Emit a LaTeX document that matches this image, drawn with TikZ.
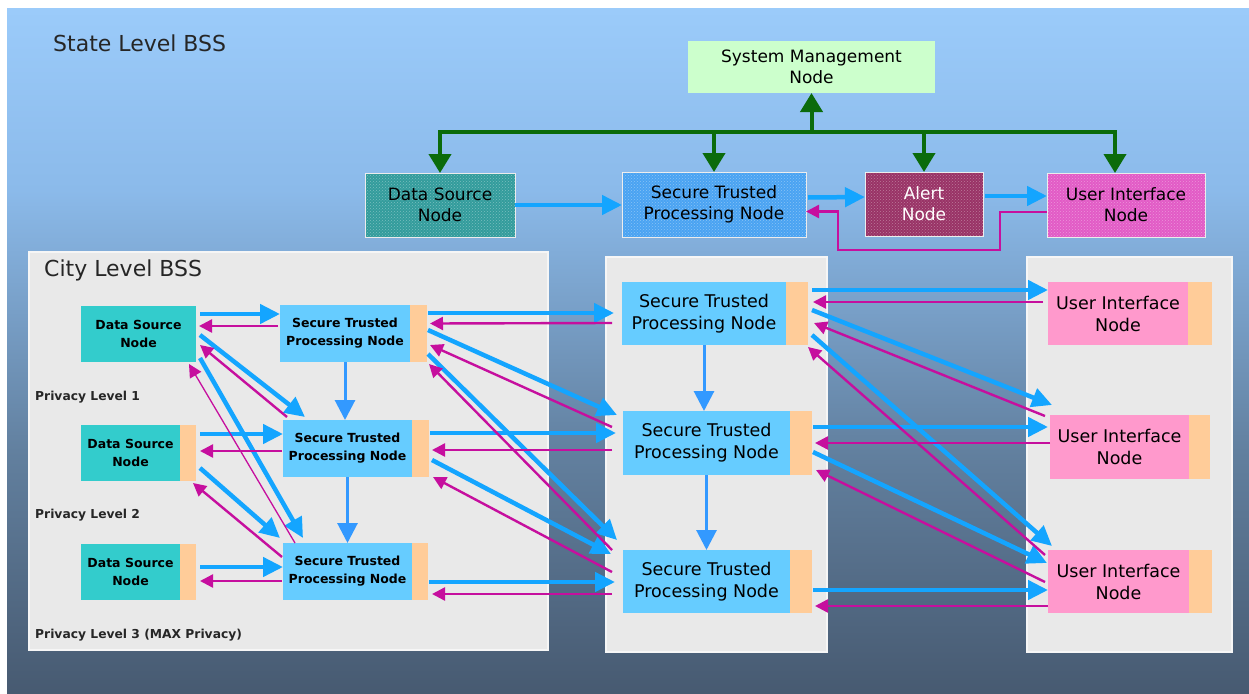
\documentclass[tikz,border=0pt]{standalone}
\usepackage{fontspec}
\setmainfont{DejaVu Sans}
\usetikzlibrary{arrows.meta,calc,patterns}

\definecolor{bgtop}{HTML}{9BCBFA}
\definecolor{bgmid}{HTML}{8BBAEA}
\definecolor{bglow}{HTML}{62809F}
\definecolor{bgbot}{HTML}{475A71}
\definecolor{panelgray}{HTML}{E9E9E9}
\definecolor{panelrim}{HTML}{F6F6F6}
\definecolor{dsteal}{HTML}{33CCCC}
\definecolor{stpblue}{HTML}{66CCFF}
\definecolor{stripor}{HTML}{FFCC99}
\definecolor{uipink}{HTML}{FF99CC}
\definecolor{smgreen}{HTML}{CCFFCC}
\definecolor{sdsteal}{HTML}{339C9C}
\definecolor{sstpblue}{HTML}{4AA3F2}
\definecolor{alertc}{HTML}{993366}
\definecolor{suipink}{HTML}{E25BC6}
\definecolor{arrblue}{HTML}{14A5FF}
\definecolor{arrvert}{HTML}{3399FF}
\definecolor{arrmag}{HTML}{C60F9E}
\definecolor{arrgreen}{HTML}{0B6B0B}

\newcommand\setfs[2]{\fontsize{#1}{#2}\selectfont}

\tikzset{
  box/.style={inner sep=0pt, outer sep=0pt, anchor=north west, align=center, text=black},
  panelbox/.style={box, fill=panelgray, draw=panelrim, line width=1.2pt},
  statebox/.style={box, draw=white!85!gray, line width=1pt,
    postaction={pattern=crosshatch dots, pattern color=white, fill opacity=0.35},
    font=\setfs{17pt}{21pt}},
  citybox/.style={box, font=\bfseries\setfs{12.5pt}{18pt}},
  bigbox/.style={box, font=\setfs{17.5pt}{22pt}},
  stripbox/.style={box, fill=stripor},
  lbl/.style={inner sep=0pt, anchor=base west, text=black!85},
  bA/.style={draw=arrblue, line width=4.5pt, -{Triangle[length=20pt,width=19pt]}},
  mA/.style={draw=arrmag, line width=2.4pt, -{Triangle[length=13pt,width=13pt]}},
  mthin/.style={draw=arrmag, line width=1.3pt, -{Triangle[length=13pt,width=13pt]}},
  vA/.style={draw=arrvert, line width=3pt, -{Triangle[length=20pt,width=20pt]}},
  gL/.style={draw=arrgreen, line width=4pt},
  gA/.style={gL, -{Triangle[length=19pt,width=22pt]}},
}

\begin{document}
\begin{tikzpicture}[x=1pt,y=-1pt]
\useasboundingbox (0,0) rectangle (1249,693);

% backdrop with vertical colour ramp
\fill[white] (0,0) rectangle (1249,693);
\shade[top color=bgtop, bottom color=bgmid] (7,9) rectangle (1249,190.5);
\shade[top color=bgmid, bottom color=bglow] (7,190) rectangle (1249,450.5);
\shade[top color=bglow, bottom color=bgbot] (7,450) rectangle (1249,693);

\node[lbl, font=\setfs{22pt}{26pt}] (statelbl) at (53,52) {State Level BSS};

% ---------- state level ----------
\node[box, fill=smgreen, minimum width=247pt, minimum height=52pt, font=\setfs{17pt}{21pt}] (sm) at (688,41) {System Management\\Node};
\node[statebox, fill=sdsteal, minimum width=150pt, minimum height=64pt] (sds) at (365,173) {Data Source\\Node};
\node[statebox, fill=sstpblue, minimum width=184pt, minimum height=65pt] (sstp) at (622,172) {Secure Trusted\\Processing Node};
\node[statebox, fill=alertc, minimum width=118pt, minimum height=64pt, text=white] (alert) at (865,172) {Alert\\Node};
\node[statebox, fill=suipink, minimum width=158pt, minimum height=64pt] (sui) at (1047,173) {User Interface\\Node};

% management bus
\coordinate (bus) at ($(sm.south)+(0,39)$);
\coordinate (uitop) at ($(sui.north)+(-11,0)$);
\draw[gA] (bus) -- (sm.south);
\draw[gL, {Triangle[length=19pt,width=22pt]}-{Triangle[length=19pt,width=22pt]}]
  (sds.north) -- (sds.north |- bus) -- (uitop |- bus) -- (uitop);
\draw[gA] (sstp.north |- bus) -- (sstp.north);
\draw[gA] (alert.north |- bus) -- (alert.north);

% state data flow
\draw[bA] (sds.east) -- (sds.east -| sstp.west);
\draw[bA] ($(sstp.east)+(2,-7)$) -- ($(alert.west)+(0,-7)$);
\draw[bA] ($(alert.east)+(2,-8)$) -- ($(sui.west)+(0,-9)$);
\coordinate (r1) at ($(alert.south east)+(17,14)$);
\coordinate (r2) at ($(sstp.south east)+(32,13)$);
\draw[mA] ($(sui.west)+(0,7)$) -| (r1) -- (r2) |- ($(sstp.east)+(0,7)$);

% ---------- panels ----------
\node[panelbox, minimum width=519pt, minimum height=398pt] (citypanel) at (29,252) {};
\node[panelbox, minimum width=221pt, minimum height=395pt] (midpanel) at (606,257) {};
\node[panelbox, minimum width=205pt, minimum height=395pt] (uipanel) at (1027,257) {};

\node[lbl, font=\setfs{22pt}{26pt}] (citylbl) at (44,276) {City Level BSS};
\node[lbl, font=\bfseries\setfs{12.3pt}{15pt}] (pl1) at (35,400) {Privacy Level 1};
\node[lbl, font=\bfseries\setfs{12.3pt}{15pt}] (pl2) at (35,518) {Privacy Level 2};
\node[lbl, font=\bfseries\setfs{12.3pt}{15pt}] (pl3) at (35,638) {Privacy Level 3 (MAX Privacy)};

% city data sources
\node[citybox, fill=dsteal, minimum width=115pt, minimum height=56pt] (ds1) at (81,306) {Data Source\\Node};
\node[citybox, fill=dsteal, minimum width=99pt, minimum height=56pt] (ds2) at (81,425) {Data Source\\Node};
\node[stripbox, minimum width=16pt, minimum height=56pt] (ds2s) at (ds2.north east) {};
\node[citybox, fill=dsteal, minimum width=99pt, minimum height=56pt] (ds3) at (81,544) {Data Source\\Node};
\node[stripbox, minimum width=16pt, minimum height=56pt] (ds3s) at (ds3.north east) {};

% city processing nodes
\node[citybox, fill=stpblue, minimum width=130pt, minimum height=57pt] (stp1) at (280,305) {Secure Trusted\\Processing Node};
\node[stripbox, minimum width=17pt, minimum height=57pt] (stp1s) at (stp1.north east) {};
\node[citybox, fill=stpblue, minimum width=129pt, minimum height=57pt] (stp2) at (283,420) {Secure Trusted\\Processing Node};
\node[stripbox, minimum width=17pt, minimum height=57pt] (stp2s) at (stp2.north east) {};
\node[citybox, fill=stpblue, minimum width=129pt, minimum height=57pt] (stp3) at (283,543) {Secure Trusted\\Processing Node};
\node[stripbox, minimum width=16pt, minimum height=57pt] (stp3s) at (stp3.north east) {};

% middle processing nodes
\node[bigbox, fill=stpblue, minimum width=164pt, minimum height=63pt] (m1) at (622,282) {Secure Trusted\\Processing Node};
\node[stripbox, minimum width=22pt, minimum height=63pt] (m1s) at (m1.north east) {};
\node[bigbox, fill=stpblue, minimum width=167pt, minimum height=64pt] (m2) at (623,411) {Secure Trusted\\Processing Node};
\node[stripbox, minimum width=22pt, minimum height=64pt] (m2s) at (m2.north east) {};
\node[bigbox, fill=stpblue, minimum width=167pt, minimum height=63pt] (m3) at (623,550) {Secure Trusted\\Processing Node};
\node[stripbox, minimum width=22pt, minimum height=63pt] (m3s) at (m3.north east) {};

% user interfaces
\node[bigbox, fill=uipink, minimum width=140pt, minimum height=63pt] (u1) at (1048,282) {User Interface\\Node};
\node[stripbox, minimum width=24pt, minimum height=63pt] (u1s) at (u1.north east) {};
\node[bigbox, fill=uipink, minimum width=139pt, minimum height=64pt] (u2) at (1050,415) {User Interface\\Node};
\node[stripbox, minimum width=21pt, minimum height=64pt] (u2s) at (u2.north east) {};
\node[bigbox, fill=uipink, minimum width=141pt, minimum height=63pt] (u3) at (1048,550) {User Interface\\Node};
\node[stripbox, minimum width=23pt, minimum height=63pt] (u3s) at (u3.north east) {};

% ---------- city level flows ----------
\draw[bA] ($(ds1.east)+(4,-20)$) -- ($(stp1.west)+(0,-19.5)$);
\draw[bA] ($(ds1.east)+(4,1)$) -- ($(stp2.north west)+(22,-3)$);
\draw[bA] ($(ds1.south east)+(4,-4)$) -- ($(stp3.north west)+(20,-5)$);
\draw[bA] ($(ds2s.east)+(4,-19)$) -- ($(stp2.west)+(0,-14.5)$);
\draw[bA] ($(ds2s.east)+(4,15)$) -- ($(stp3.north west)+(-3,-5)$);
\draw[bA] ($(ds3s.east)+(4,-5)$) -- ($(stp3.west)+(0,-4.5)$);

\draw[mA] ($(stp1.west)+(-2,-7.5)$) -- ($(ds1.east)+(3,-8)$);
\draw[mA] ($(stp2.north west)+(4,-3)$) -- ($(ds1.east)+(4,11)$);
\draw[mthin] ($(stp3.north west)+(12,0)$) -- ($(ds1.south east)+(-7,2)$);
\draw[mA] ($(stp2.west)+(-1,2.5)$) -- ($(ds2s.east)+(4,-2)$);
\draw[mA] ($(stp3.west)+(-1,-14.5)$) -- ($(ds2s.south east)+(-3,2)$);
\draw[mA] ($(stp3.west)+(-1,9.5)$) -- ($(ds3s.east)+(4,9)$);

\draw[vA] (stp1.south) -- (stp1.south |- stp2.north);
\draw[vA] (stp2.south) -- (stp2.south |- stp3.north);

% ---------- city to regional flows ----------
\draw[bA] ($(stp1s.east)+(1,-20.5)$) -- ($(m1.west)+(-8,-0.5)$);
\draw[bA] ($(stp1s.east)+(1,-3.5)$) -- ($(m2.north west)+(-6,4)$);
\draw[bA] ($(stp1s.east)+(1,20.5)$) -- ($(m3.north west)+(-6,-10)$);
\draw[bA] ($(stp2s.east)+(1,-15.5)$) -- ($(m2.west)+(-7,-10)$);
\draw[bA] ($(stp2s.east)+(3,11.5)$) -- ($(m3.north west)+(-12,4)$);
\draw[bA] ($(stp3s.east)+(1,10.5)$) -- ($(m3.west)+(-8,0.5)$);

\draw[mA] ($(m1.west)+(-10,9.5)$) -- ($(stp1s.east)+(3,-10)$);
\draw[mA] ($(m2.west)+(-11,-16)$) -- ($(stp1s.east)+(3,11.5)$);
\draw[mA] ($(m3.north west)+(-11,0)$) -- ($(stp1s.south east)+(2,2)$);
\draw[mA] ($(m2.west)+(-11,7)$) -- ($(stp2s.east)+(3,1.5)$);
\draw[mA] ($(m3.west)+(-11,-9.5)$) -- ($(stp2s.south east)+(4,0)$);
\draw[mA] ($(m3.west)+(-11,12.5)$) -- ($(stp3s.east)+(4,22.5)$);

\draw[vA] (m1.south) -- (m1.south |- m2.north);
\draw[vA] (m2.south) -- (m2.south |- m3.north);

% ---------- regional to user interface flows ----------
\draw[bA] ($(m1s.east)+(4,-23.5)$) -- ($(u1.west)+(0,-23.5)$);
\draw[bA] ($(m1s.east)+(4,-3.5)$) -- ($(u2.north west)+(2,-10)$);
\draw[bA] ($(m1s.east)+(4,21.5)$) -- ($(u3.north west)+(4,-4)$);
\draw[bA] ($(m2s.east)+(1,-16)$) -- ($(u2.west)+(-2,-20)$);
\draw[bA] ($(m2s.east)+(1,9)$) -- ($(u3.west)+(-1,-18.5)$);
\draw[bA] ($(m3s.east)+(1,8.5)$) -- ($(u3.west)+(0,8.5)$);

\draw[mA] ($(u1.west)+(-5,-11.5)$) -- ($(m1s.east)+(5,-11.5)$);
\draw[mA] ($(u2.north west)+(-5,1)$) -- ($(m1s.east)+(6,9.5)$);
\draw[mA] ($(u3.north west)+(-3,5)$) -- ($(m1s.south east)+(0,2)$);
\draw[mA] ($(u2.west)+(0,-4)$) -- ($(m2s.east)+(3,0)$);
\draw[mA] ($(u3.west)+(-3,0.5)$) -- ($(m2s.south east)+(4,-5)$);
\draw[mA] ($(u3.west)+(0,24.5)$) -- ($(m3s.east)+(3,24.5)$);
\end{tikzpicture}
\end{document}
